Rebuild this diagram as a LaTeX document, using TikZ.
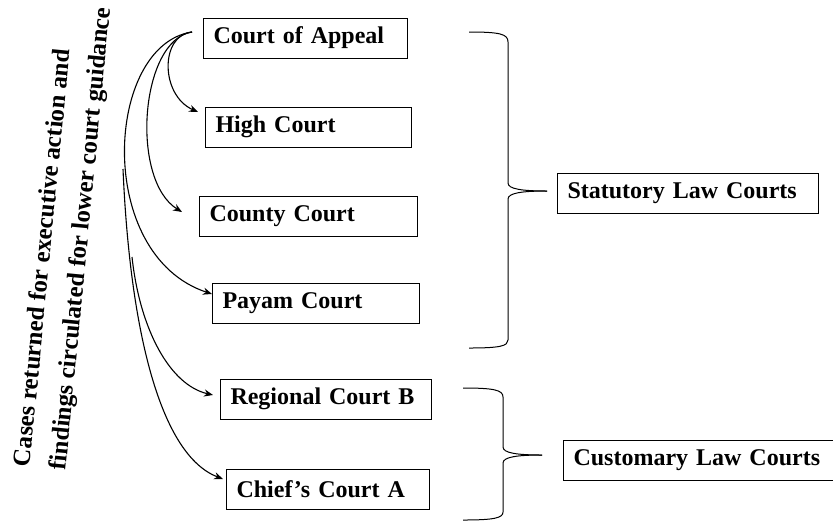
\documentclass[tikz,border=0pt]{standalone}
\usepackage{fontspec}
\setmainfont{Liberation Serif}
\usetikzlibrary{arrows.meta}
\tikzstyle{court}=[draw,line width=.5pt,inner xsep=5pt,inner ysep=0pt,minimum height=20pt,align=left,anchor=west,font=\fontsize{12}{14}\bfseries]
\tikzstyle{ret}=[line width=.55pt,-{Stealth[length=4.5pt,width=3.6pt]}]
\tikzstyle{brc}=[line width=.5pt]
\tikzstyle{note}=[rotate=84.5,align=left,inner sep=0pt,font=\fontsize{12.4}{18}\bfseries]

\begin{document}
\begin{tikzpicture}[x=.5pt,y=-.5pt]
    \useasboundingbox (0,0) rectangle (833,521);
    % court boxes
    \foreach \n/\x/\y/\w/\t in {coa/203/38/92pt/Court of Appeal, hc/205/127/93pt/High Court, cc/199/216.5/99pt/County Court, pc/212/303/93.5pt/Payam Court, rcb/220/399/95.5pt/Regional Court B, cca/226/489/91.5pt/Chief's Court A, slc/557/193/120.5pt/Statutory Law Courts, clc/563/460/125pt/Customary Law Courts}
        \node[court,text width=\w] (\n) at (\x,\y) {\t};
    \node[note] (cases) at (64,237) {Cases returned for executive action and\\findings circulated for lower court guidance};
    % returns
    \coordinate (src) at ([shift={(-11,-6)}]coa.west);
    \coordinate (r1) at (132,257);
    \coordinate (r2) at (123,169);
    \draw[ret] (src) .. controls +(-32,3) and +(-38,-17) .. ([shift={(-7,-15)}]hc.west);
    \draw[ret] (src) .. controls +(-52,8) and +(-52,-32) .. ([shift={(-17,-4.5)}]cc.west);
    \draw[ret] (src) .. controls +(-87,13) and +(-118,-39) .. ([shift={(0,-9)}]pc.west);
    \draw[ret] (r1) .. controls +(8,73) and +(-43,-10) .. ([shift={(-7,-4)}]rcb.west);
    \draw[ret] (r2) .. controls +(7,161) and +(-63,-24) .. ([shift={(-3,-10)}]cca.west);
    % braces
    \draw[brc] (469,32) .. controls (500,32) and (508,34) .. (508,42) -- (508,183) .. controls (508,189) and (522,191) .. (547,191);
    \draw[brc] (547,191) .. controls (522,191) and (508,193) .. (508,199) -- (508,340) .. controls (508,346) and (500,348) .. (469,348);
    \draw[brc] (463,388) .. controls (494,388) and (503,390) .. (503,397) -- (503,447) .. controls (503,453) and (517,455) .. (542,455);
    \draw[brc] (542,455) .. controls (517,455) and (503,457) .. (503,463) -- (503,512) .. controls (503,518) and (494,520) .. (463,520);
\end{tikzpicture}
\end{document}
